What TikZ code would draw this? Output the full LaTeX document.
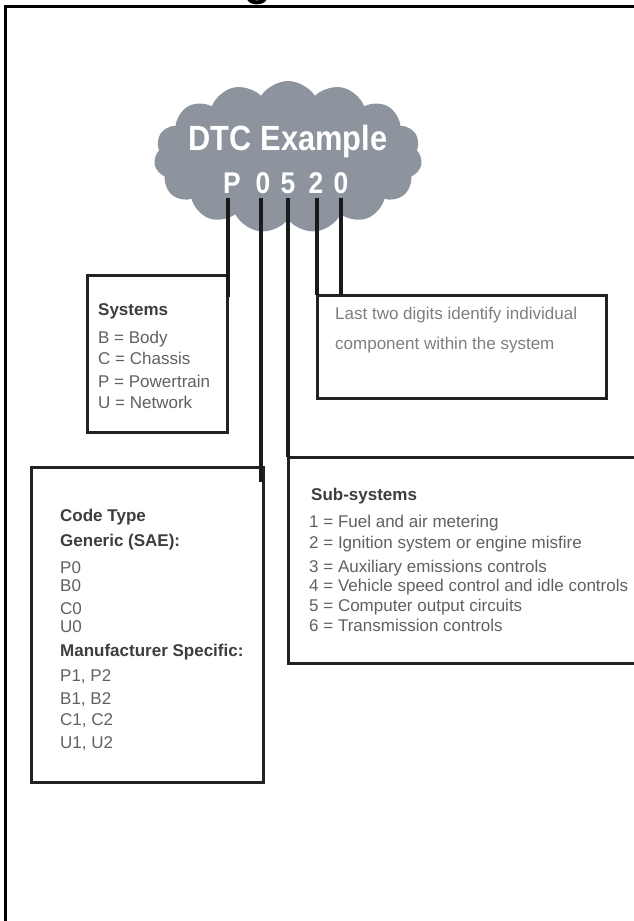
\documentclass[tikz,border=0pt]{standalone}
\usepackage{fontspec}
\setmainfont{Liberation Sans}
\newfontfamily\condfont[FakeStretch=0.88]{Liberation Sans}
\usetikzlibrary{shapes.symbols,calc}
\definecolor{cloudgray}{HTML}{8D949E}
\definecolor{boxc}{HTML}{222222}
\definecolor{linec}{HTML}{1A1A1A}
\definecolor{titlec}{HTML}{3D3D3D}
\definecolor{itemc}{HTML}{606060}
\definecolor{lightc}{HTML}{7E7E7E}
\begin{document}
\begin{tikzpicture}[x=1pt,y=-1pt,
  frame/.style={line width=3pt,draw=black},
  box/.style={draw=boxc,line width=3pt,rectangle,inner sep=0pt,outer sep=0pt,anchor=north west},
  conn/.style={draw=linec,line width=4.5pt},
  thinconn/.style={draw=linec,line width=3.5pt},
  ttl/.style={anchor=base west,inner sep=0pt,font=\fontsize{17}{20}\selectfont\bfseries,text=titlec},
  item/.style={anchor=base west,inner sep=0pt,font=\fontsize{17}{20}\selectfont,text=itemc},
  light/.style={anchor=base west,inner sep=0pt,font=\fontsize{17}{20}\selectfont,text=lightc},
  digit/.style={font=\condfont\bfseries\fontsize{30}{30}\selectfont,text=white,anchor=base,inner sep=0pt}
]
\useasboundingbox (0,0) rectangle (634,921);
\clip (0,0) rectangle (634,921);

% outer frame and cut-off title
\node[anchor=base,inner sep=0pt,font=\bfseries\fontsize{44}{44}\selectfont] (title) at (258,-5) {g};
\draw[frame] (5,1000) -- (5,6) -- (700,6);

% cloud
\node[cloud, cloud puffs=15, cloud puff arc=115, aspect=1.9, fill=cloudgray, draw=none,
      minimum width=268, minimum height=152, inner sep=0pt] (cloud) at (288,157) {};
\node[anchor=base,inner sep=0pt,text=white,font=\condfont\bfseries\fontsize{35}{35}\selectfont] (dtc) at (288,150) {DTC Example};
\node[digit] (dP) at (232,193) {P};
\node[digit] (d0a) at (263,193) {0};
\node[digit] (d5) at (288,193) {5};
\node[digit] (d2) at (316,193) {2};
\node[digit] (d0b) at (341,193) {0};

% boxes
\node[box, minimum width=140, minimum height=157] (sys) at (87,275) {};
\node[box, minimum width=289, minimum height=103] (last) at (317,295) {};
\node[box, minimum width=232, minimum height=315] (code) at (31,467) {};
\node[box, minimum width=450, minimum height=206] (sub) at (288,457) {};

% junctions
\coordinate (jP) at (228,297);
\coordinate (j0a) at (261,482);
\coordinate (j0b) at (341,295);

% connectors
\draw[conn] ($(dP.south -| jP)+(0,5)$) -- (jP);
\draw[conn] ($(d0a.south -| j0a)+(0,5)$) -- (j0a);
\draw[thinconn] ($(d5.south -| sub.north west)+(0,5)$) -- (sub.north west);
\draw[conn] ($(d2.south -| last.north west)+(0,5)$) -- (last.north west);
\draw[conn] ($(d0b.south -| j0b)+(0,5)$) -- (j0b);

% Systems text
\node[ttl] (sysT) at (98,315) {Systems};
\node[item] (sysB) at (98,343) {B = Body};
\node[item] (sysC) at (98,364) {C = Chassis};
\node[item] (sysP) at (98,387) {P = Powertrain};
\node[item] (sysU) at (98,408) {U = Network};

% Last two digits text
\node[light] (l1) at (335,319) {Last two digits identify individual};
\node[light] (l2) at (335,349) {component within the system};

% Code type text
\node[ttl] (cT) at (60,521) {Code Type};
\node[ttl] (cG) at (60,546) {Generic (SAE):};
\node[item] (c1) at (60,573) {P0};
\node[item] (c2) at (60,591) {B0};
\node[item] (c3) at (60,614) {C0};
\node[item] (c4) at (60,632) {U0};
\node[ttl] (cM) at (60,656) {Manufacturer Specific:};
\node[item] (c5) at (60,681) {P1, P2};
\node[item] (c6) at (60,704) {B1, B2};
\node[item] (c7) at (60,725) {C1, C2};
\node[item] (c8) at (60,748) {U1, U2};

% Sub-systems text
\node[ttl] (sT) at (311,500) {Sub-systems};
\node[item] (s1) at (309,527) {1 = Fuel and air metering};
\node[item] (s2) at (309,548) {2 = Ignition system or engine misfire};
\node[item] (s3) at (309,572) {3 = Auxiliary emissions controls};
\node[item] (s4) at (309,591) {4 = Vehicle speed control and idle controls};
\node[item] (s5) at (309,611) {5 = Computer output circuits};
\node[item] (s6) at (309,631) {6 = Transmission controls};
\end{tikzpicture}
\end{document}
